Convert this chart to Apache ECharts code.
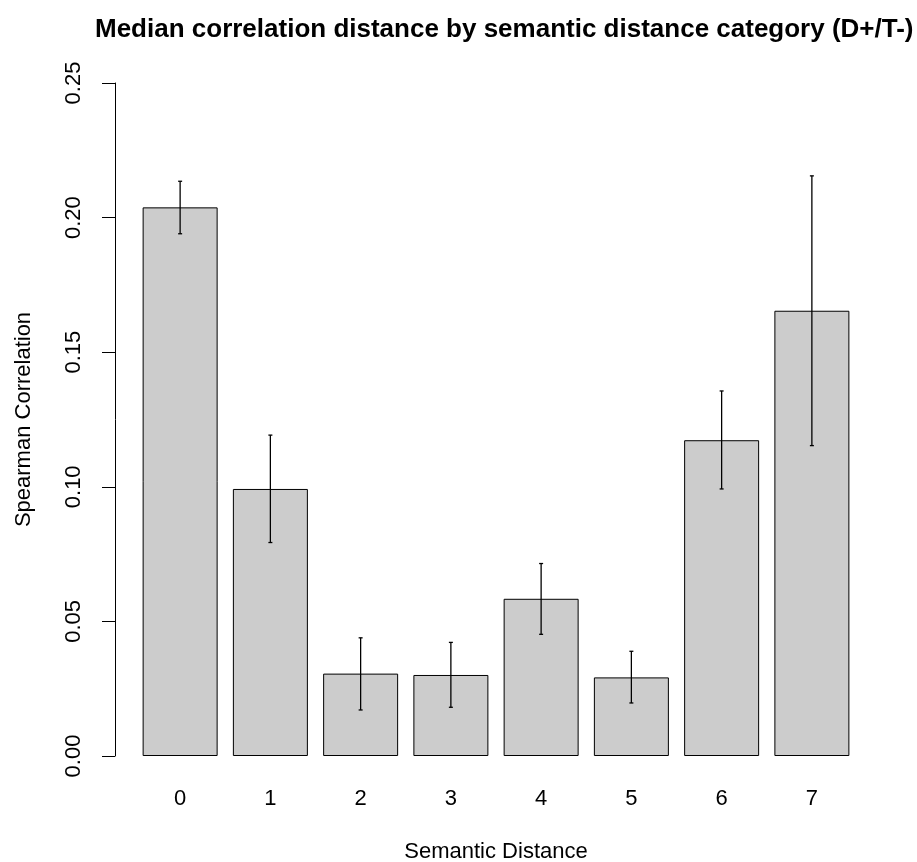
<!DOCTYPE html>
<html>
<head>
<meta charset="utf-8">
<script src="https://cdn.jsdelivr.net/npm/echarts@6/dist/echarts.min.js"></script>
<style>
  html, body { margin: 0; padding: 0; background: #fff; }
  #main { width: 917px; height: 862px; }
</style>
</head>
<body>
<div id="main"></div>
<script>
// semantic distance categories
var categories = ['0', '1', '2', '3', '4', '5', '6', '7'];
// median spearman correlation per category
var medians = [0.2038, 0.0992, 0.0306, 0.0301, 0.0584, 0.0292, 0.1173, 0.1654];
// error bar ends
var lower = [0.1940, 0.0793, 0.0171, 0.0181, 0.0452, 0.0197, 0.0992, 0.1153];
var upper = [0.2135, 0.1192, 0.0439, 0.0422, 0.0715, 0.0389, 0.1356, 0.2155];

var font = 'Liberation Sans, Arial, Helvetica, sans-serif';

var errData = categories.map(function (c, i) {
  return [i, lower[i], upper[i]];
});

var chart = echarts.init(document.getElementById('main'));

var option = {
  animation: false,
  backgroundColor: '#fff',
  title: {
    text: 'Median correlation distance by semantic distance category (D+/T-)',
    left: 90,
    top: 12,
    textStyle: { fontFamily: font, fontSize: 26, fontWeight: 'bold', color: '#000' }
  },
  // fixed plot box, don't let v6 shrink it for the labels
  grid: { left: 135, right: 60, top: 83, bottom: 106, outerBoundsMode: 'none' },
  xAxis: {
    type: 'category',
    data: categories,
    name: 'Semantic Distance',
    nameLocation: 'middle',
    nameGap: 85,
    nameTextStyle: { fontFamily: font, fontSize: 22, color: '#000' },
    axisLine: { show: false },
    axisTick: { show: false },
    axisLabel: { fontFamily: font, fontSize: 22, color: '#000', margin: 32 }
  },
  yAxis: {
    type: 'value',
    min: 0,
    max: 0.25,
    interval: 0.05,
    offset: 20,
    name: 'Spearman Correlation',
    nameLocation: 'middle',
    nameGap: 80,
    nameRotate: 90,
    nameTextStyle: { fontFamily: font, fontSize: 22, color: '#000' },
    axisLine: { show: true, lineStyle: { color: '#000', width: 1 } },
    axisTick: { show: true, length: 13, lineStyle: { color: '#000', width: 1 } },
    splitLine: { show: false },
    axisLabel: {
      rotate: 90,
      margin: 30,
      fontFamily: font,
      fontSize: 22,
      color: '#000',
      formatter: function (v) { return v.toFixed(2); }
    }
  },
  series: [
    {
      type: 'bar',
      data: medians,
      barWidth: 75,
      itemStyle: { color: '#cccccc', borderColor: '#000', borderWidth: 1 }
    },
    {
      type: 'custom',
      data: errData,
      z: 10,
      encode: { x: 0, y: [1, 2] },
      renderItem: function (params, api) {
        var lo = api.coord([api.value(0), api.value(1)]);
        var hi = api.coord([api.value(0), api.value(2)]);
        var cap = 2;
        var st = { stroke: '#000', lineWidth: 1.3 };
        return {
          type: 'group',
          children: [
            { type: 'line', shape: { x1: lo[0], y1: lo[1], x2: hi[0], y2: hi[1] }, style: st },
            { type: 'line', shape: { x1: lo[0] - cap, y1: lo[1], x2: lo[0] + cap, y2: lo[1] }, style: st },
            { type: 'line', shape: { x1: hi[0] - cap, y1: hi[1], x2: hi[0] + cap, y2: hi[1] }, style: st }
          ]
        };
      }
    }
  ]
};

chart.setOption(option);
</script>
</body>
</html>
